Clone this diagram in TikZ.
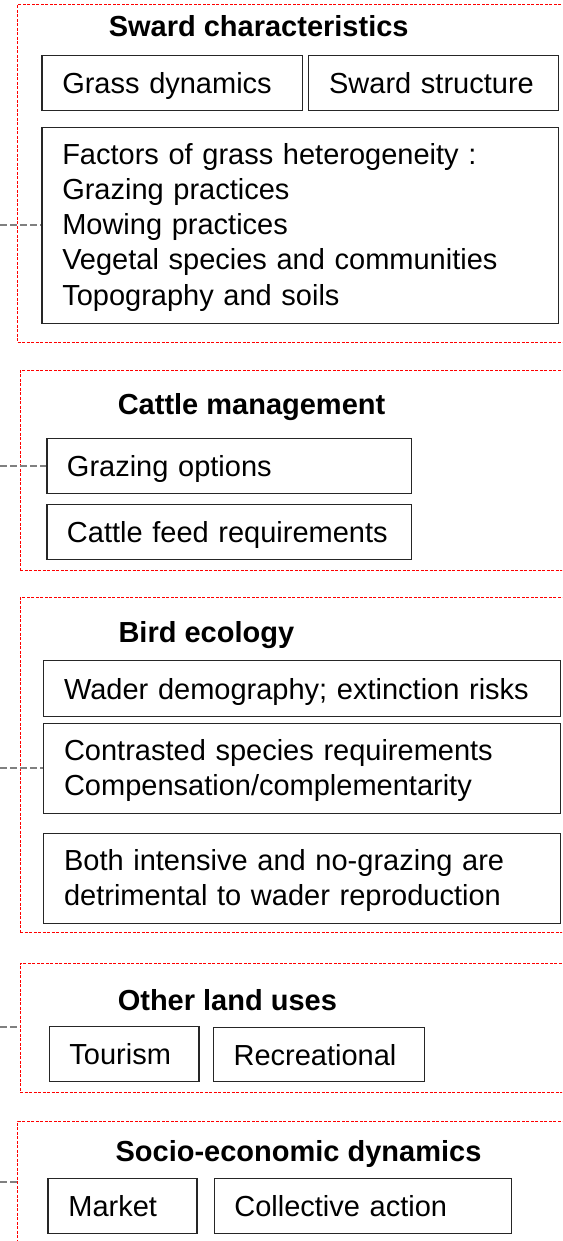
\documentclass[tikz,border=0pt]{standalone}
\usepackage{fontspec}
\setmainfont{Liberation Sans}
\begin{document}
\begin{tikzpicture}[x=1pt,y=-1pt,
 every node/.style={font=\fontsize{29}{35.2}\selectfont},
 panel/.style={draw=red, line width=0.9pt, dash pattern=on 3pt off 1.5pt, anchor=north west, inner sep=0pt, rectangle},
 ibox/.style={draw=black!85, line width=1.3pt, anchor=north west, inner ysep=0pt, inner xsep=20.4pt, align=left},
 one/.style={text height=24pt, text depth=3.2pt},
 ttl/.style={anchor=base west, inner sep=0pt, font=\fontsize{29}{35}\selectfont\bfseries},
 conn/.style={draw=black!50, line width=2.2pt, dash pattern=on 6.5pt off 3.5pt}]
\useasboundingbox (0,0) rectangle (562,1241);
\clip (0,0) rectangle (562,1241);
% Panel 1
\node[panel, minimum width=600pt, minimum height=338pt] (p1) at (17.2,4) {};
\node[ttl] (t1) at (108.6,37) {Sward characteristics};
\node[ibox, one, text width=219.8pt, minimum height=55pt] (b11) at (41.2,55) {Grass dynamics};
\node[ibox, one, inner xsep=20.5pt, text width=209pt, minimum height=55pt] (b12) at (308,55) {Sward structure};
\node[ibox, text width=476pt, minimum height=196pt] (b13) at (41.2,127) {\rule{0pt}{24pt}Factors of grass heterogeneity :\\Grazing practices\\Mowing practices\\Vegetal species and communities\\Topography and soils};
% Panel 2
\node[panel, minimum width=600pt, minimum height=200pt] (p2) at (19.7,370) {};
\node[ttl] (t2) at (117.6,414) {Cattle management};
\node[ibox, one, inner xsep=20.1pt, text width=324.3pt, minimum height=55pt] (b21) at (46.2,438) {Grazing options};
\node[ibox, one, inner xsep=20.1pt, text width=324.3pt, minimum height=55pt] (b22) at (46.2,504) {Cattle feed requirements};
% Panel 3
\node[panel, minimum width=600pt, minimum height=335pt] (p3) at (19.7,597) {};
\node[ttl] (t3) at (118.3,642) {Bird ecology};
\node[ibox, one, text width=476.2pt, minimum height=56pt] (b31) at (43,660) {Wader demography; extinction risks};
\node[ibox, text width=476.2pt, minimum height=90pt] (b32) at (43,723) {\rule{0pt}{24pt}Contrasted species requirements\\Compensation/complementarity};
\node[ibox, text width=476.2pt, minimum height=90pt] (b33) at (43,833) {\rule{0pt}{24pt}Both intensive and no-grazing are\\detrimental to wader reproduction};
% Panel 4
\node[panel, minimum width=600pt, minimum height=129pt] (p4) at (19.7,963) {};
\node[ttl] (t4) at (117.6,1010) {Other land uses};
\node[ibox, one, inner xsep=19.7pt, text width=109.7pt, minimum height=55pt] (b41) at (49.1,1026) {Tourism};
\node[ibox, one, inner xsep=20.5pt, text width=170.2pt, minimum height=54pt] (b42) at (212.5,1027) {Recreational};
% Panel 5
\node[panel, minimum width=600pt, minimum height=180pt] (p5) at (17.2,1121) {};
\node[ttl] (t5) at (115.4,1161) {Socio-economic dynamics};
\node[ibox, one, text width=108.3pt, minimum height=55pt] (b51) at (47.3,1178) {Market};
\node[ibox, one, inner xsep=20.1pt, text width=257pt, minimum height=55pt] (b52) at (213.6,1178) {Collective action};
% Connectors
\coordinate (c1) at (0,225);
\coordinate (c2) at (0,466);
\coordinate (c3) at (0,768);
\coordinate (c4) at (0,1027);
\coordinate (c5) at (0,1182);
\draw[conn] (c1) -- (c1 -| b13.west);
\draw[conn] (c2) -- (c2 -| b21.west);
\draw[conn] (c3) -- (c3 -| b32.west);
\draw[conn] (c4) -- (c4 -| p4.west);
\draw[conn] (c5) -- (c5 -| p5.west);
\end{tikzpicture}
\end{document}
